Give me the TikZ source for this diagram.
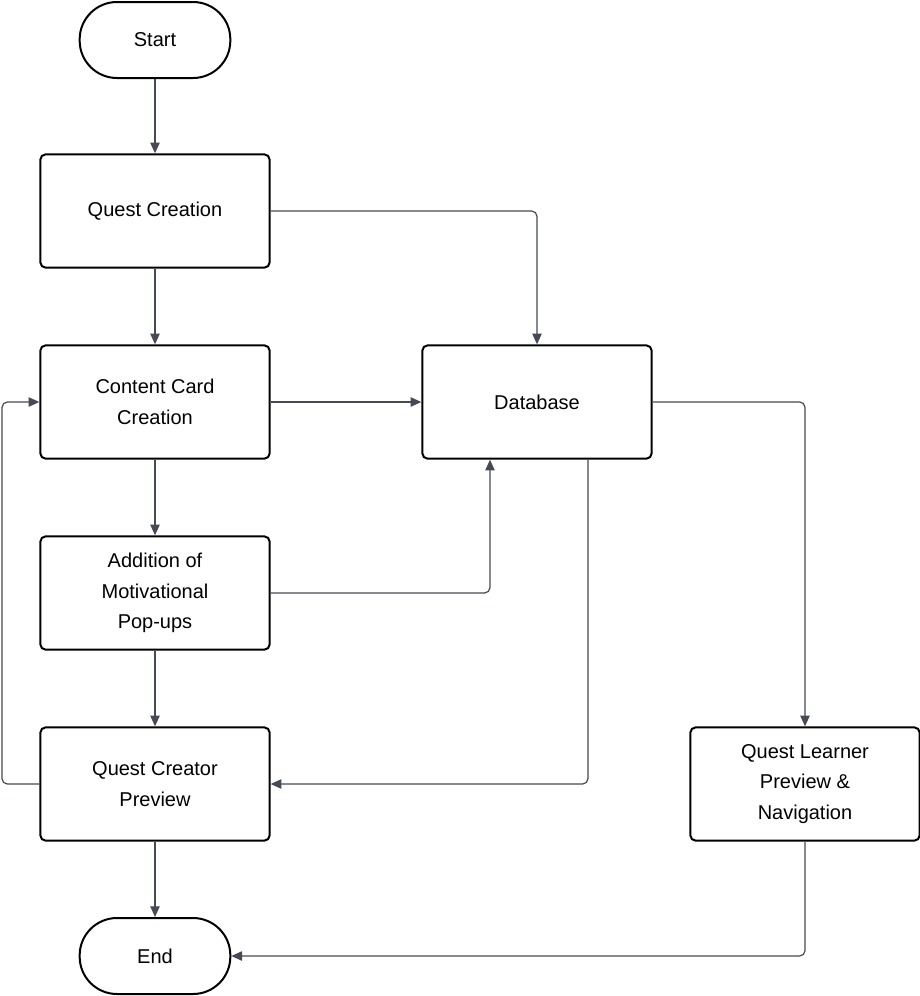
\documentclass[tikz,border=0pt]{standalone}
\usepackage{fontspec}
\setmainfont{Liberation Sans}
\usetikzlibrary{arrows.meta}
\definecolor{linegray}{RGB}{70,74,84}
\tikzset{every picture/.style={line width=0.75pt}}
\tikzset{
  box/.style={draw=black, line width=1.5pt, rounded corners=4pt, minimum width=172pt, minimum height=85pt, align=center, font=\fontsize{15}{23}\selectfont},
  term/.style={draw=black, line width=1.5pt, rounded corners=28pt, minimum width=113pt, minimum height=57pt, font=\fontsize{15}{23}\selectfont},
  flow/.style={draw=linegray, line width=0.9pt, rounded corners=4pt, -{Triangle[length=8pt,width=7pt]}}
}

\begin{document}
\begin{tikzpicture}[x=0.75pt,y=0.75pt,yscale=-1,xscale=1]
\useasboundingbox (0,0) rectangle (920,996);

% Nodes
\node[term] (start) at (155,40) {Start};
\node[box] (quest) at (155,211) {Quest Creation};
\node[box] (card) at (155,402) {Content Card\\Creation};
\node[box] (popup) at (155,593) {Addition of\\Motivational\\Pop-ups};
\node[box] (preview) at (155,784) {Quest Creator\\Preview};
\node[term] (end) at (155,956) {End};
\node[box] (db) at (537,402) {Database};
\node[box] (learner) at (805,784) {Quest Learner\\Preview \&\\Navigation};

% Main column
\draw[flow] (start) -- (quest);
\draw[flow] (quest) -- (card);
\draw[flow] (card) -- (popup);
\draw[flow] (popup) -- (preview);
\draw[flow] (preview) -- (end);

% Links to and from the database
\draw[flow] (quest.east) -| (db.north);
\draw[flow] (card) -- (db);
\draw[flow] (popup.east) -| ([xshift=-35.25pt]db.south);
\draw[flow] ([xshift=38.25pt]db.south) |- (preview.east);
\draw[flow] (db.east) -| (learner.north);
\draw[flow] (learner.south) |- (end.east);

% Loop back
\coordinate (back) at (2,784);
\draw[flow] (preview.west) -- (back) |- (card.west);

\end{tikzpicture}
\end{document}
